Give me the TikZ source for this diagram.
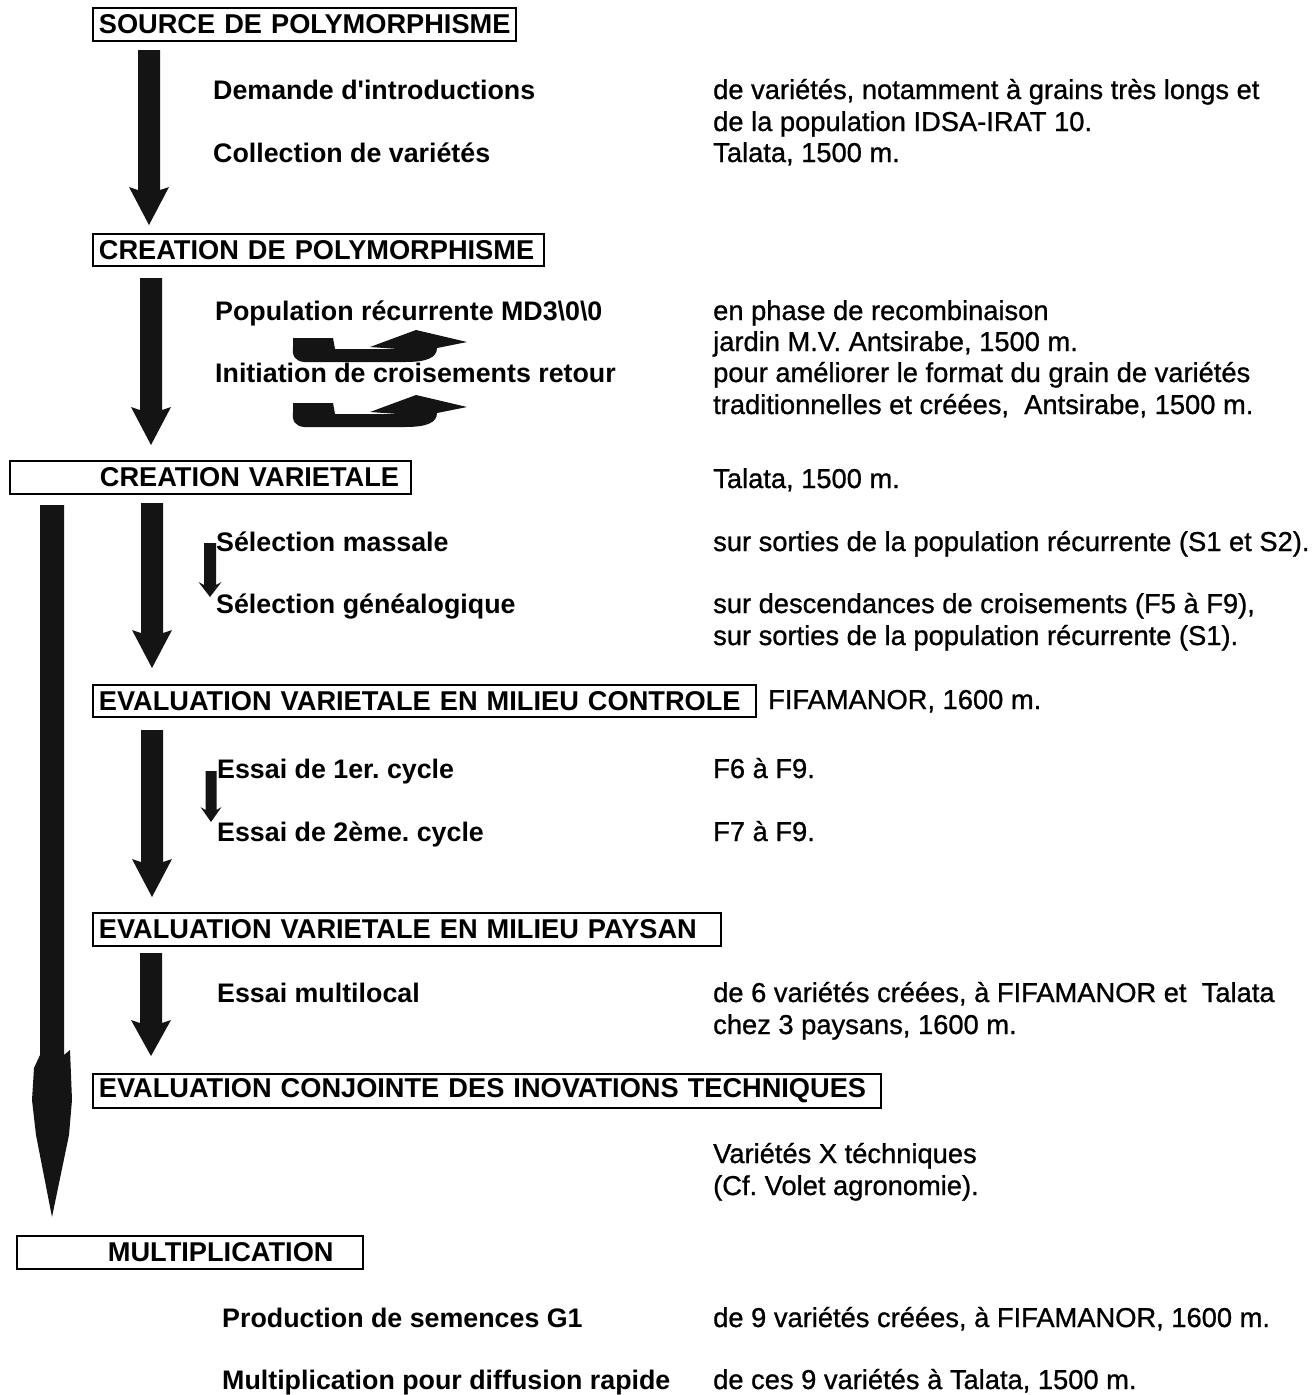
\documentclass[tikz,border=0pt]{standalone}
\usepackage{fontspec}
\setmainfont{Liberation Sans}
\newfontfamily\rfont{Liberation Sans}[FakeBold=0.9]
\frenchspacing
\begin{document}
\begin{tikzpicture}[x=1pt,y=-1pt,
  boxnode/.style={draw,line width=1.8pt,anchor=north west,inner xsep=6pt,inner ysep=0pt,
     minimum height=33pt,align=left,font=\bfseries\fontsize{27.2}{30}\selectfont},
  lefttxt/.style={anchor=base west,inner sep=0pt,font=\bfseries\fontsize{26.8}{30}\selectfont},
  righttxt/.style={anchor=base west,inner sep=0pt,font=\rfont\fontsize{27.3}{30}\selectfont},
  arrowfill/.style={fill=black!92}]
\newcommand{\blkarrow}[6]{% cx, top, tip, shaft w, head w, head length
  \fill[arrowfill] ({#1-#4/2},#2) -- ({#1+#4/2},#2) -- ({#1+#4/2},{#3-#6}) -- ({#1+#5/2},{#3-#6-3}) --
    (#1,#3) -- ({#1-#5/2},{#3-#6-3}) -- ({#1-#4/2},{#3-#6}) -- cycle;}
\newcommand{\uturn}[1]{% y of head apex
  \begin{scope}[yshift=-#1pt]
  \fill[arrowfill] (293,8) -- (333,8) -- (335,19) -- (398,19) -- (370,17) -- (416,0) -- (467,12)
    -- (437,18) .. controls (437,28) and (426,32) .. (405,32) -- (304,32)
    .. controls (295,31) and (292,26) .. (293,17) -- cycle;
  \end{scope}}
\useasboundingbox (0,0) rectangle (1315,1395);
\fill[white] (0,0) rectangle (1315,1395);

% ---- boxes
\node[boxnode,text width=411pt] (src) at (92,7) {\mbox{SOURCE DE POLYMORPHISME}};
\node[boxnode,text width=439pt,minimum height=32pt] (cpoly) at (92,233) {\mbox{CREATION DE POLYMORPHISME}};
\node[boxnode,text width=389pt] (cvar) at (9,460) {\hspace*{84pt}\mbox{CREATION VARIETALE}};
\node[boxnode,text width=651pt,minimum height=32pt] (ctrl) at (92,684) {\mbox{EVALUATION VARIETALE EN MILIEU CONTROLE}};
\node[boxnode,text width=616pt] (pays) at (92,912) {\mbox{EVALUATION VARIETALE EN MILIEU PAYSAN}};
\node[boxnode,text width=776pt,minimum height=34pt] (conj) at (92,1073) {\mbox{EVALUATION CONJOINTE DES INOVATIONS TECHNIQUES}};
\node[boxnode,text width=334pt] (mult) at (16,1235) {\hspace*{85pt}\mbox{MULTIPLICATION}};

% ---- big arrows
\blkarrow{149}{50}{225}{22}{40}{35}
\blkarrow{151}{278}{445}{22}{40}{35}
\blkarrow{152}{503}{668}{22}{40}{35}
\blkarrow{152}{730}{897}{22}{40}{35}
\blkarrow{151}{953}{1056}{22}{40}{33}
% small arrows
\blkarrow{210}{543}{597}{12}{23}{12}
\blkarrow{211}{771}{822}{11}{21}{12}
% long left arrow
\fill[arrowfill] (40,505) -- (64,505) -- (64,1055) -- (70,1050) -- (72,1100) -- (69,1135) -- (52,1217)
  -- (36,1135) -- (32,1100) -- (34,1068) -- (40,1055) -- cycle;
% u-turn arrows
\uturn{330}
\uturn{395}

% ---- left column
\node[lefttxt] (l1) at (213,99) {Demande d\textquotesingle introductions};
\node[lefttxt] (l2) at (213,162) {Collection de variétés};
\node[lefttxt] (l3) at (215,320) {Population récurrente MD3\textbackslash0\textbackslash0};
\node[lefttxt] (l4) at (215,382) {Initiation de croisements retour};
\node[lefttxt] (l5) at (216,551) {Sélection massale};
\node[lefttxt] (l6) at (216,613) {Sélection généalogique};
\node[lefttxt] (l7) at (217,778) {Essai de 1er. cycle};
\node[lefttxt] (l8) at (217,841) {Essai de 2ème. cycle};
\node[lefttxt] (l9) at (217,1002) {Essai multilocal};
\node[lefttxt] (l10) at (222,1327) {Production de semences G1};
\node[lefttxt] (l11) at (222,1389) {Multiplication pour diffusion rapide};

% ---- right column
\node[righttxt] (r1) at (713,99) {de variétés, notamment à grains très longs et};
\node[righttxt] (r2) at (713,131) {de la population IDSA-IRAT 10.};
\node[righttxt] (r3) at (713,162) {Talata, 1500 m.};
\node[righttxt] (r4) at (713,320) {en phase de recombinaison};
\node[righttxt] (r5) at (713,351) {jardin M.V. Antsirabe, 1500 m.};
\node[righttxt] (r6) at (713,382) {pour améliorer le format du grain de variétés};
\node[righttxt] (r7) at (713,414) {traditionnelles et créées,\ \ Antsirabe, 1500 m.};
\node[righttxt] (r8) at (713,488) {Talata, 1500 m.};
\node[righttxt] (r9) at (713,551) {sur sorties de la population récurrente (S1 et S2).};
\node[righttxt] (r10) at (713,613) {sur descendances de croisements (F5 à F9),};
\node[righttxt] (r11) at (713,645) {sur sorties de la population récurrente (S1).};
\node[righttxt] (r12) at (768,709) {FIFAMANOR, 1600 m.};
\node[righttxt] (r13) at (713,778) {F6 à F9.};
\node[righttxt] (r14) at (713,841) {F7 à F9.};
\node[righttxt] (r15) at (713,1002) {de 6 variétés créées, à FIFAMANOR et\ \ Talata};
\node[righttxt] (r16) at (713,1034) {chez 3 paysans, 1600 m.};
\node[righttxt] (r17) at (713,1163) {Variétés X téchniques};
\node[righttxt] (r18) at (713,1195) {(Cf. Volet agronomie).};
\node[righttxt] (r19) at (713,1327) {de 9 variétés créées, à FIFAMANOR, 1600 m.};
\node[righttxt] (r20) at (713,1389) {de ces 9 variétés à Talata, 1500 m.};
\end{tikzpicture}
\end{document}
